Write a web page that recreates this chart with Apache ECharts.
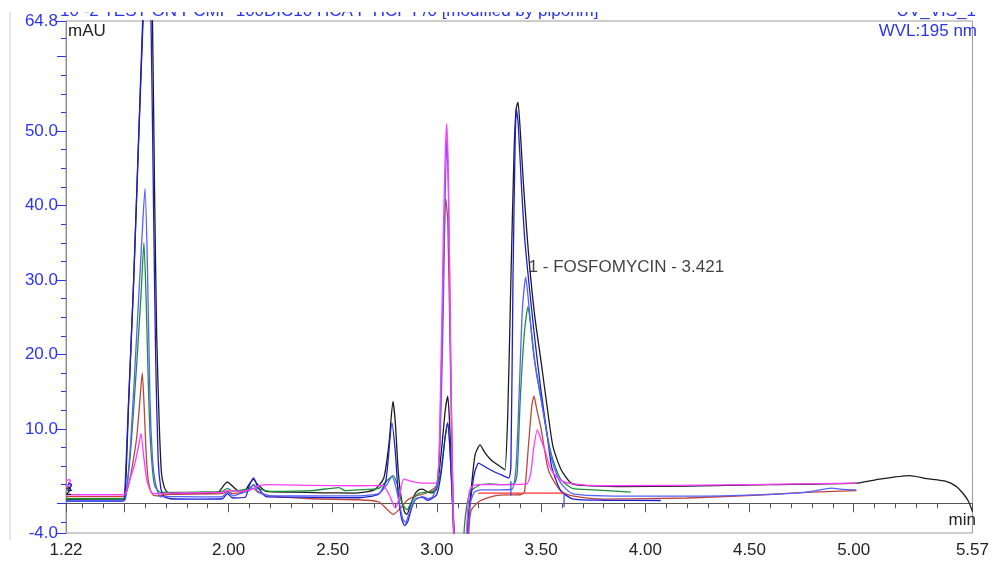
<!DOCTYPE html>
<html><head><meta charset="utf-8">
<script src="https://cdn.jsdelivr.net/npm/echarts@6/dist/echarts.min.js"></script>
<style>html,body{margin:0;padding:0;background:#fff}#c{width:992px;height:563px}</style>
</head><body><div id="c"></div>
<script>
// ---- data (time in min, absorbance in mAU) ----
const xLabelValues = [1.22, 2.00, 2.50, 3.00, 3.50, 4.00, 4.50, 5.00, 5.57];
const yLabelValues = [-4.0, 10.0, 20.0, 30.0, 40.0, 50.0, 64.8];

const blackTrace = [
 [1.22,0.47],[1.49,0.45],[1.503,0.6],[1.52,13],[1.543,28.7],[1.566,47],[1.588,64.8],[1.61,80],[1.625,75],[1.635,64.8],[1.645,42],[1.655,22.8],[1.667,11],[1.678,4.1],[1.69,2.3],[1.702,1.6],[1.72,1.35],
 [1.85,1.3],[1.95,1.5],[1.98,2.5],[1.995,2.85],[2.015,2.4],[2.05,1.6],[2.08,1.7],[2.10,2.6],[2.12,3.2],[2.14,2.5],[2.18,1.6],[2.30,1.5],[2.45,1.4],[2.60,1.37],
 [2.70,1.8],[2.745,3.4],[2.77,8],[2.789,13.7],[2.80,11],[2.815,4],[2.83,0.5],[2.845,-1.2],[2.856,-1.5],[2.87,-0.5],[2.89,1.0],[2.912,1.8],[2.93,1.9],[2.95,1.6],[2.975,1.4],
 [2.997,1.8],[3.01,4],[3.025,8],[3.04,12.5],[3.052,14.4],[3.062,10],[3.075,0],[3.087,-6],[3.10,-15],[3.12,-15],[3.135,-8],[3.15,-2],[3.165,2],[3.183,6.5],[3.207,7.85],
 [3.23,6.8],[3.26,5.8],[3.29,5.2],[3.31,4.8],[3.326,4.5],[3.34,12],[3.355,30],[3.37,47],[3.38,53],[3.389,53.9],[3.40,50],[3.415,43],[3.43,37],[3.445,31.8],[3.47,25],[3.50,19],
 [3.533,12.1],[3.557,7.6],[3.596,4.5],[3.644,2.7],[3.70,2.4],[3.867,2.25],[4.20,2.3],[4.60,2.5],[5.013,2.7],[5.105,3.15],[5.268,3.7],[5.35,3.3],[5.443,2.93],[5.49,2.3],[5.523,1.37],[5.55,0.3],[5.57,-1.1]
];
const darkBlueTrace = [
 [1.22,0.24],[1.49,0.24],[1.50,0.4],[1.52,13.5],[1.545,30],[1.57,50],[1.59,65],[1.605,78],[1.618,72],[1.628,64.8],[1.64,40],[1.65,20],[1.662,6],[1.675,2],[1.69,0.9],[1.72,0.6],
 [1.85,0.55],[1.97,0.6],[1.995,1.3],[2.02,0.7],[2.08,0.8],[2.10,2.4],[2.12,3.4],[2.14,2.2],[2.18,0.9],[2.40,0.8],[2.625,0.74],
 [2.72,1.2],[2.755,3],[2.784,10.8],[2.80,7],[2.815,1],[2.83,-2],[2.845,-3.0],[2.86,-2.5],[2.88,-0.5],[2.90,0.6],[2.93,0.8],[2.955,0.4],[2.975,0.6],
 [3.00,1.2],[3.02,4],[3.04,9],[3.052,10.8],[3.065,6],[3.078,-2],[3.09,-12],[3.12,-15],[3.14,-6],[3.16,0],[3.18,4],[3.20,5.4],[3.23,4.9],[3.27,4.3],[3.31,3.8],[3.345,3.4],
 [3.355,5],[3.365,30],[3.375,48],[3.381,53],[3.39,51],[3.405,43],[3.42,36],[3.44,30],[3.47,22],[3.50,15],[3.53,9],[3.55,5],[3.58,2.5],[3.60,1.5],[3.65,0.6],[3.80,0.4],[4.074,0.37]
];
const lightBlueTrace = [
 [1.22,0.3],[1.49,0.3],[1.505,0.5],[1.53,8],[1.56,23],[1.585,36],[1.599,42.3],[1.61,33],[1.623,14],[1.635,6],[1.646,3.2],[1.66,1.5],[1.67,0.9],[1.72,0.9],
 [1.85,0.85],[1.97,0.9],[1.995,1.5],[2.02,1.0],[2.10,1.8],[2.12,2.5],[2.14,1.6],[2.20,1.0],[2.40,1.0],[2.625,1.0],
 [2.72,1.3],[2.76,2.5],[2.785,3.6],[2.80,2.5],[2.82,0],[2.835,-2],[2.85,-2.6],[2.865,-1.5],[2.89,0.3],[2.93,0.9],[2.96,0.6],[2.98,0.9],
 [3.00,2.5],[3.015,8],[3.03,25],[3.04,42],[3.047,48.8],[3.055,42],[3.065,22],[3.075,3],[3.085,-8],[3.10,-15],[3.13,-15],[3.145,-6],[3.16,0],[3.18,1.5],[3.21,1.8],[3.30,1.8],[3.36,1.9],
 [3.38,5],[3.395,15],[3.41,26],[3.426,30.4],[3.44,27],[3.46,21],[3.48,17],[3.50,14],[3.53,9],[3.55,6],[3.58,3.5],[3.60,2.5],[3.65,1.3],[3.80,1.0],[4.20,0.95],[4.50,1.1],
 [4.727,1.37],[4.80,1.6],[4.894,2.04],[4.95,1.85],[5.013,1.8]
];
const greenTrace = [
 [1.22,0.6],[1.49,0.6],[1.505,0.8],[1.53,7],[1.56,19],[1.58,28],[1.594,35],[1.605,27],[1.615,16],[1.623,9.4],[1.635,4.5],[1.646,2.3],[1.67,1.5],[1.72,1.45],
 [1.85,1.5],[1.97,1.6],[1.995,2.0],[2.02,1.6],[2.10,2.0],[2.12,2.5],[2.14,2.0],[2.20,1.6],[2.40,1.7],[2.53,2.1],[2.56,1.7],[2.625,1.8],
 [2.72,2.0],[2.76,3.0],[2.789,3.7],[2.81,2.5],[2.83,0.2],[2.856,-0.9],[2.88,0.3],[2.91,1.3],[2.95,1.5],[2.98,1.6],
 [3.00,2.2],[3.02,4.5],[3.04,9],[3.052,10.8],[3.065,6],[3.078,-2],[3.09,-12],[3.115,-15],[3.128,-5],[3.14,-1],[3.16,1.5],[3.20,2.4],[3.25,2.6],[3.30,2.5],[3.37,2.6],
 [3.385,4],[3.40,14],[3.42,23],[3.437,26.4],[3.45,24],[3.47,19],[3.50,14],[3.53,9],[3.55,6.5],[3.58,4],[3.60,3],[3.65,2.0],[3.75,1.8],[3.93,1.5]
];
const redTrace = [
 [1.22,0.9],[1.49,0.9],[1.505,1.0],[1.525,3],[1.543,5.8],[1.56,9],[1.575,14],[1.586,17.5],[1.595,13],[1.605,6.5],[1.614,3.2],[1.625,1.8],[1.638,1.1],[1.66,1.0],[1.72,1.2],
 [1.85,1.25],[1.97,1.3],[1.995,1.6],[2.02,1.3],[2.10,1.7],[2.12,2.0],[2.14,1.5],[2.20,1.0],[2.40,0.6],[2.625,0.47],
 [2.72,0.2],[2.76,-0.8],[2.79,-1.5],[2.82,-0.8],[2.86,0.47],[2.90,1.0],[2.95,1.37],
 [3.00,2.5],[3.015,10],[3.03,30],[3.042,41],[3.052,38],[3.065,18],[3.078,0],[3.09,-10],[3.12,-15],[3.141,-12],[3.155,-3],[3.165,-0.9],[3.20,0.2],[3.25,0.8],[3.30,1.1],[3.40,1.14],
 [3.42,1.5],[3.44,8],[3.455,13],[3.466,14.4],[3.48,12.5],[3.50,10],[3.53,5],[3.55,3.5],[3.60,1.5],[3.65,1.0],[3.80,0.56],[4.20,0.7],[4.568,1.14],[4.80,1.5],[5.013,1.7]
];
const magentaTrace = [
 [1.22,1.14],[1.49,1.14],[1.505,1.3],[1.527,3.2],[1.551,5.4],[1.567,7.5],[1.58,9.4],[1.592,6.5],[1.607,3.2],[1.62,2.0],[1.631,1.4],[1.66,1.3],[1.72,1.35],
 [1.85,1.4],[1.97,1.5],[1.995,1.7],[2.05,1.6],[2.10,1.8],[2.12,2.0],[2.15,2.4],[2.20,2.5],[2.40,2.4],[2.625,2.35],
 [2.74,2.4],[2.77,1.2],[2.80,-0.65],[2.82,0.8],[2.84,3.25],[2.87,3.0],[2.93,2.7],[2.997,2.7],
 [3.015,12],[3.03,35],[3.04,47],[3.047,51],[3.055,44],[3.065,22],[3.075,2],[3.085,-8],[3.10,-15],[3.13,-15],[3.14,-5],[3.155,1.5],[3.17,2.3],[3.20,2.5],[3.30,2.5],[3.43,2.6],
 [3.45,4],[3.465,7.5],[3.482,9.87],[3.50,8.5],[3.52,7],[3.54,5],[3.56,4],[3.60,3],[3.65,2.6],[3.80,2.35],[4.50,2.5],[5.013,2.7]
];
const peakBaseline = [[3.198,1.37],[3.613,1.37]];
const peakDelimiters = [[3.355,1.0,3.0],[3.61,-0.5,1.37]];
const peakLabel = {t:3.44, v:31.7, text:'1 - FOSFOMYCIN - 3.421'};

// ---- ticks ----
const xMajorTicks = [1.22,1.5,2.0,2.5,3.0,3.5,4.0,4.5,5.0,5.57];
const xMinorTicks = [];
for (let i = 13; i <= 55; i++) { if (i % 5 !== 0) xMinorTicks.push(i/10); }
const yMajorTicks = [-4,0,10,20,30,40,50,60,64.8];
const yMinorTicks = [];
for (let i = -1; i <= 25; i++) { if (i % 4 !== 0) yMinorTicks.push(i*2.5); }

const chart = echarts.init(document.getElementById('c'), null, {renderer:'canvas'});
const FONT = '"Liberation Sans", Arial, sans-serif';
const BLUE = '#2b35f0';
const xBase = {type:'value', min:1.22, max:5.57, position:'bottom'};
const yBase = {type:'value', min:-4, max:64.8, position:'left'};

function line(name, data, color, z, w) {
  return {name, type:'line', data, xAxisIndex:0, yAxisIndex:0, showSymbol:false, symbol:'none',
    smooth:0.2, clip:true, z:z, lineStyle:{color, width:w||1.3}, emphasis:{disabled:true}, silent:true};
}

const option = {
  animation:false,
  backgroundColor:'#fff',
  grid:{left:66, right:15, top:21, bottom:30, show:true, borderColor:'#9a9a9a', borderWidth:1},
  xAxis:[
    Object.assign({}, xBase, {
      axisLine:{show:true, lineStyle:{color:'#555', width:1}},
      axisTick:{show:true, customValues:xMajorTicks, length:9, lineStyle:{color:'#555'}},
      axisLabel:{customValues:xLabelValues, formatter:v=>v.toFixed(2), color:'#222', fontSize:17, fontFamily:FONT, margin:9},
      splitLine:{show:false}
    }),
    Object.assign({}, xBase, {
      axisLine:{show:false},
      axisTick:{show:true, customValues:xMinorTicks, length:5, lineStyle:{color:'#555'}},
      axisLabel:{show:false}, splitLine:{show:false}
    })
  ],
  yAxis:[
    Object.assign({}, yBase, {
      axisLine:{show:true, lineStyle:{color:'#8a8a8a', width:1}},
      axisTick:{show:true, customValues:yMajorTicks, length:9, lineStyle:{color:BLUE}},
      axisLabel:{customValues:yLabelValues, formatter:v=>v.toFixed(1), color:BLUE, fontSize:17, fontFamily:FONT, margin:8},
      splitLine:{show:false}
    }),
    Object.assign({}, yBase, {
      axisLine:{show:false},
      axisTick:{show:true, customValues:yMinorTicks, length:5, lineStyle:{color:BLUE}},
      axisLabel:{show:false}, splitLine:{show:false}
    })
  ],
  series:[
    line('black', blackTrace, '#1c1c1c', 2),
    line('red', redTrace, '#c0443a', 3),
    line('green', greenTrace, '#17913a', 4),
    line('darkblue', darkBlueTrace, '#1d1dd6', 5),
    line('lightblue', lightBlueTrace, '#5560ff', 6),
    line('magenta', magentaTrace, '#ff3cff', 7),
    {type:'line', data:peakBaseline, showSymbol:false, symbol:'none', z:8, silent:true,
     lineStyle:{color:'#ff3030', width:1.2}},
    {type:'custom', z:9, silent:true, data:peakDelimiters,
     renderItem:(params, api)=>{
       const a = api.coord([api.value(0), api.value(1)]);
       const b = api.coord([api.value(0), api.value(2)]);
       return {type:'line', shape:{x1:a[0], y1:a[1], x2:b[0], y2:b[1]}, style:{stroke:'#3a46ff', lineWidth:1.2}};
     }},
    {type:'scatter', data:[[peakLabel.t, peakLabel.v]], symbolSize:0, z:10, silent:true,
     label:{show:true, position:'right', distance:0, formatter:peakLabel.text, color:'#111', fontSize:17, fontFamily:FONT}}
  ],
  graphic:[
    {type:'line', shape:{x1:10, y1:0, x2:10, y2:540}, style:{stroke:'#d0d0d0', lineWidth:1}, z:1},
    {type:'text', left:60, top:3, z:20, style:{text:'10 -2 TEST ON PCMP 100DIC10 HCA F HCF F/0 [modified by pipohm]', fill:BLUE, font:'17px '+FONT}},
    {type:'text', right:16, top:3, z:20, style:{text:'UV_VIS_1', fill:BLUE, font:'17px '+FONT}},
    {type:'rect', shape:{x:0, y:0, width:992, height:12}, style:{fill:'#fff'}, z:21},
    {type:'text', right:15, top:23, z:20, style:{text:'WVL:195 nm', fill:BLUE, font:'17px '+FONT}},
    {type:'text', left:68, top:23, z:20, style:{text:'mAU', fill:'#222', font:'17px '+FONT}},
    {type:'text', right:16, top:512, z:20, style:{text:'min', fill:'#222', font:'17px '+FONT}},
    {type:'text', left:66, top:479, z:20, style:{text:'3', fill:'#ff3cff', font:'bold 10px '+FONT}},
    {type:'text', left:67, top:483, z:20, style:{text:'2', fill:'#1d1dd6', font:'bold 10px '+FONT}},
    {type:'text', left:66, top:487, z:20, style:{text:'2', fill:'#1c1c1c', font:'bold 10px '+FONT}}
  ]
};
chart.setOption(option);
</script></body></html>
